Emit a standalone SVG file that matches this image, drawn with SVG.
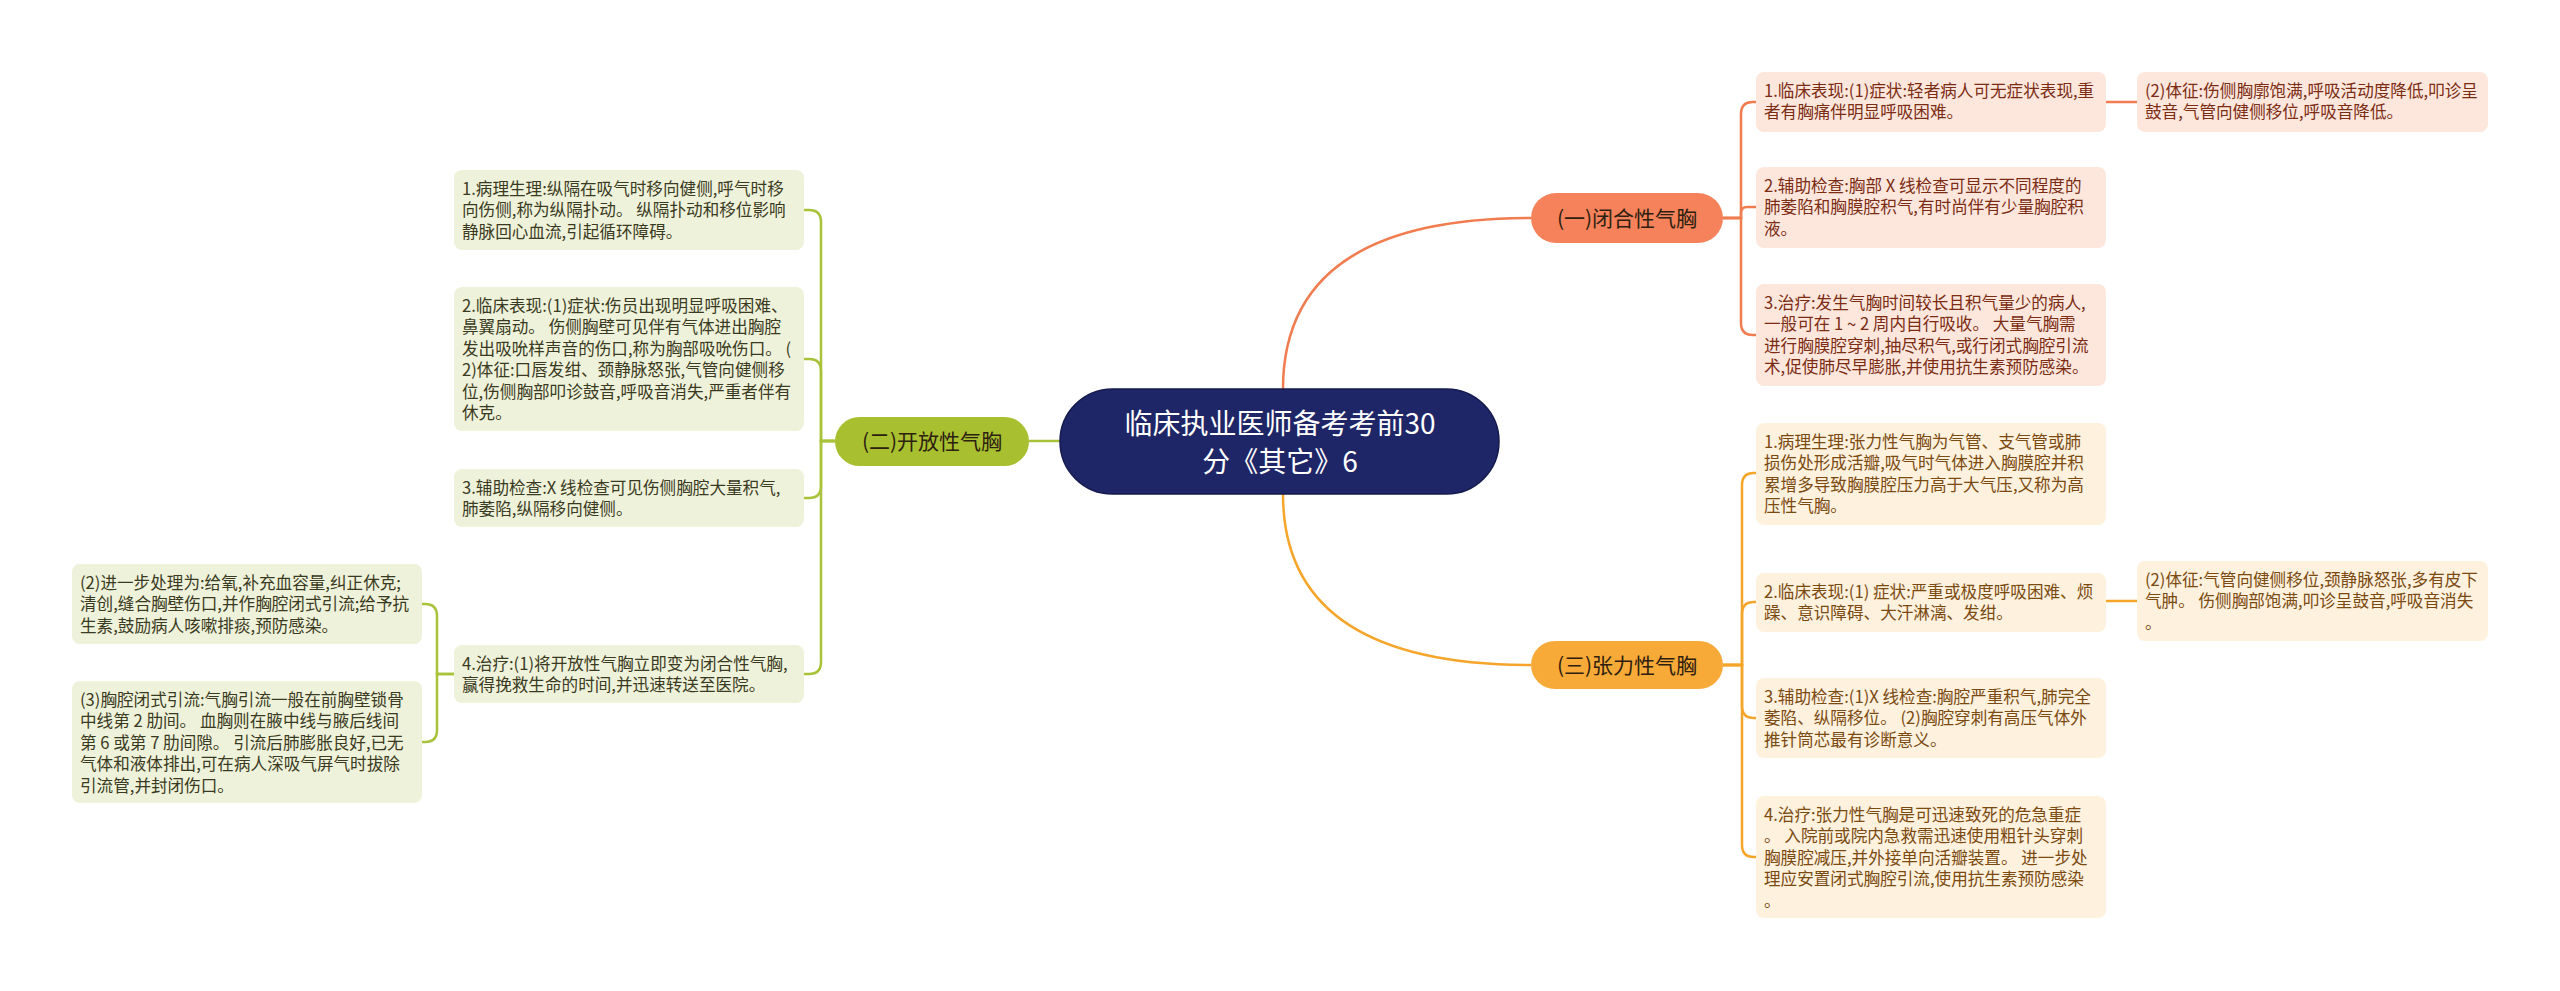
<svg xmlns="http://www.w3.org/2000/svg" width="2560" height="991" viewBox="0 0 2560 991">
<style>
text{font-family:"Noto Sans CJK SC","Noto Sans",sans-serif;}
.lf{font-size:16.6px;}
.r .box{fill:#fde7dd;} .r text{fill:#7b2c12;}
.o .box{fill:#fef1dd;} .o text{fill:#7a4a10;}
.g .box{fill:#eff2da;} .g text{fill:#3a3a22;}
.cs{fill:none;stroke:#f07c4f;stroke-width:2.5;}
.co{fill:none;stroke:#f5a52a;stroke-width:2.5;}
.cg{fill:none;stroke:#a8c23a;stroke-width:2.5;}
.mid{font-size:21px;fill:#2e2010;}
</style>
<rect width="2560" height="991" fill="#ffffff"/>
<g id="connectors">
<path class="cs" d="M1283,389 Q1283,218 1531,218"/>
<path class="co" d="M1283,494 Q1283,665 1531,665"/>
<path class="cg" d="M1060,441 H1029"/>
<path class="cs" d="M1723,218 H1741 V114 Q1741,102 1753,102 H1756"/>
<path class="cs" d="M1723,218 H1741 V213 Q1741,207 1747,207 H1756"/>
<path class="cs" d="M1723,218 H1741 V323 Q1741,335 1753,335 H1756"/>
<path class="cs" d="M2106,102 H2137"/>
<path class="co" d="M1723,665 H1742 V485 Q1742,473 1754,473 H1756"/>
<path class="co" d="M1723,665 H1742 V614 Q1742,602 1754,602 H1756"/>
<path class="co" d="M1723,665 H1742 V706 Q1742,718 1754,718 H1756"/>
<path class="co" d="M1723,665 H1742 V845 Q1742,857 1754,857 H1756"/>
<path class="co" d="M2106,601 H2137"/>
<path class="cg" d="M835,441 H821 V222 Q821,210 809,210 H804"/>
<path class="cg" d="M835,441 H821 V371 Q821,359 809,359 H804"/>
<path class="cg" d="M835,441 H821 V486 Q821,498 809,498 H804"/>
<path class="cg" d="M835,441 H821 V662 Q821,674 809,674 H804"/>
<path class="cg" d="M454,674 H437 V616 Q437,604 425,604 H422"/>
<path class="cg" d="M454,674 H437 V730 Q437,742 425,742 H422"/>
</g>
<g id="root">
<rect x="1060" y="389" width="439" height="105" rx="52.5" fill="#1f2667" stroke="#151b4e" stroke-width="1.5"/>
<text x="1280" y="434" font-size="28" fill="#ffffff" text-anchor="middle">临床执业医师备考考前30</text>
<text x="1280" y="472" font-size="28" fill="#ffffff" text-anchor="middle">分《其它》6</text>
</g>
<g id="n1">
<rect x="1531" y="193" width="192" height="50" rx="25" fill="#f5825a"/>
<text class="mid" x="1627" y="226" text-anchor="middle">(一)闭合性气胸</text>
</g>
<g id="n2">
<rect x="835" y="417" width="194" height="49" rx="24.5" fill="#a8c030"/>
<text class="mid" x="932" y="449" text-anchor="middle">(二)开放性气胸</text>
</g>
<g id="n3">
<rect x="1531" y="641" width="192" height="48" rx="24" fill="#f8aa38"/>
<text class="mid" x="1627" y="673" text-anchor="middle">(三)张力性气胸</text>
</g>
<g id="r1" class="r lf">
<rect class="box" x="1756" y="72" width="350" height="60" rx="8"/>
<text x="1764" y="97">1.临床表现:(1)症状:轻者病人可无症状表现,重</text>
<text x="1764" y="118.4">者有胸痛伴明显呼吸困难。</text>
</g>
<g id="r1b" class="r lf">
<rect class="box" x="2137" y="72" width="351" height="60" rx="8"/>
<text x="2145" y="97">(2)体征:伤侧胸廓饱满,呼吸活动度降低,叩诊呈</text>
<text x="2145" y="118.4">鼓音,气管向健侧移位,呼吸音降低。</text>
</g>
<g id="r2" class="r lf">
<rect class="box" x="1756" y="167" width="350" height="81" rx="8"/>
<text x="1764" y="192">2.辅助检查:胸部 X 线检查可显示不同程度的</text>
<text x="1764" y="213.4">肺萎陷和胸膜腔积气,有时尚伴有少量胸腔积</text>
<text x="1764" y="234.8">液。</text>
</g>
<g id="r3" class="r lf">
<rect class="box" x="1756" y="284" width="350" height="102" rx="8"/>
<text x="1764" y="309">3.治疗:发生气胸时间较长且积气量少的病人,</text>
<text x="1764" y="330.4">一般可在 1 ~ 2 周内自行吸收。 大量气胸需</text>
<text x="1764" y="351.8">进行胸膜腔穿刺,抽尽积气,或行闭式胸腔引流</text>
<text x="1764" y="373.2">术,促使肺尽早膨胀,并使用抗生素预防感染。</text>
</g>
<g id="o1" class="o lf">
<rect class="box" x="1756" y="423" width="350" height="102" rx="8"/>
<text x="1764" y="448">1.病理生理:张力性气胸为气管、支气管或肺</text>
<text x="1764" y="469.4">损伤处形成活瓣,吸气时气体进入胸膜腔并积</text>
<text x="1764" y="490.8">累增多导致胸膜腔压力高于大气压,又称为高</text>
<text x="1764" y="512.2">压性气胸。</text>
</g>
<g id="o2" class="o lf">
<rect class="box" x="1756" y="573" width="350" height="59" rx="8"/>
<text x="1764" y="598">2.临床表现:(1) 症状:严重或极度呼吸困难、烦</text>
<text x="1764" y="619.4">躁、意识障碍、大汗淋漓、发绀。</text>
</g>
<g id="o2b" class="o lf">
<rect class="box" x="2137" y="561" width="351" height="80" rx="8"/>
<text x="2145" y="586">(2)体征:气管向健侧移位,颈静脉怒张,多有皮下</text>
<text x="2145" y="607.4">气肿。 伤侧胸部饱满,叩诊呈鼓音,呼吸音消失</text>
<text x="2145" y="628.8">。</text>
</g>
<g id="o3" class="o lf">
<rect class="box" x="1756" y="678" width="350" height="80" rx="8"/>
<text x="1764" y="703">3.辅助检查:(1)X 线检查:胸腔严重积气,肺完全</text>
<text x="1764" y="724.4">萎陷、纵隔移位。 (2)胸腔穿刺有高压气体外</text>
<text x="1764" y="745.8">推针筒芯最有诊断意义。</text>
</g>
<g id="o4" class="o lf">
<rect class="box" x="1756" y="796" width="350" height="122" rx="8"/>
<text x="1764" y="821">4.治疗:张力性气胸是可迅速致死的危急重症</text>
<text x="1764" y="842.4">。 入院前或院内急救需迅速使用粗针头穿刺</text>
<text x="1764" y="863.8">胸膜腔减压,并外接单向活瓣装置。 进一步处</text>
<text x="1764" y="885.2">理应安置闭式胸腔引流,使用抗生素预防感染</text>
<text x="1764" y="906.6">。</text>
</g>
<g id="g1" class="g lf">
<rect class="box" x="454" y="170" width="350" height="80" rx="8"/>
<text x="462" y="195">1.病理生理:纵隔在吸气时移向健侧,呼气时移</text>
<text x="462" y="216.4">向伤侧,称为纵隔扑动。 纵隔扑动和移位影响</text>
<text x="462" y="237.8">静脉回心血流,引起循环障碍。</text>
</g>
<g id="g2" class="g lf">
<rect class="box" x="454" y="287" width="350" height="144" rx="8"/>
<text x="462" y="312">2.临床表现:(1)症状:伤员出现明显呼吸困难、</text>
<text x="462" y="333.4">鼻翼扇动。 伤侧胸壁可见伴有气体进出胸腔</text>
<text x="462" y="354.8">发出吸吮样声音的伤口,称为胸部吸吮伤口。 (</text>
<text x="462" y="376.2">2)体征:口唇发绀、颈静脉怒张,气管向健侧移</text>
<text x="462" y="397.6">位,伤侧胸部叩诊鼓音,呼吸音消失,严重者伴有</text>
<text x="462" y="419">休克。</text>
</g>
<g id="g3" class="g lf">
<rect class="box" x="454" y="469" width="350" height="58" rx="8"/>
<text x="462" y="494">3.辅助检查:X 线检查可见伤侧胸腔大量积气,</text>
<text x="462" y="515.4">肺萎陷,纵隔移向健侧。</text>
</g>
<g id="g4" class="g lf">
<rect class="box" x="454" y="645" width="350" height="58" rx="8"/>
<text x="462" y="670">4.治疗:(1)将开放性气胸立即变为闭合性气胸,</text>
<text x="462" y="691.4">赢得挽救生命的时间,并迅速转送至医院。</text>
</g>
<g id="g4a" class="g lf">
<rect class="box" x="72" y="564" width="350" height="80" rx="8"/>
<text x="80" y="589">(2)进一步处理为:给氧,补充血容量,纠正休克;</text>
<text x="80" y="610.4">清创,缝合胸壁伤口,并作胸腔闭式引流;给予抗</text>
<text x="80" y="631.8">生素,鼓励病人咳嗽排痰,预防感染。</text>
</g>
<g id="g4b" class="g lf">
<rect class="box" x="72" y="681" width="350" height="122" rx="8"/>
<text x="80" y="706">(3)胸腔闭式引流:气胸引流一般在前胸壁锁骨</text>
<text x="80" y="727.4">中线第 2 肋间。 血胸则在腋中线与腋后线间</text>
<text x="80" y="748.8">第 6 或第 7 肋间隙。 引流后肺膨胀良好,已无</text>
<text x="80" y="770.2">气体和液体排出,可在病人深吸气屏气时拔除</text>
<text x="80" y="791.6">引流管,并封闭伤口。</text>
</g>
</svg>
